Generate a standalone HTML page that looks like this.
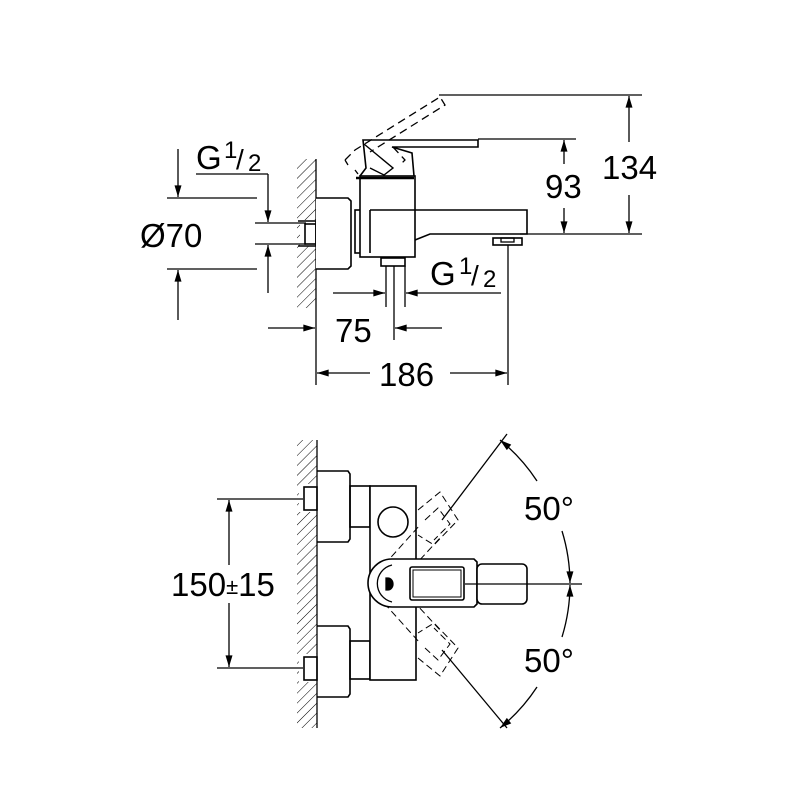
<!DOCTYPE html>
<html><head><meta charset="utf-8"><style>html,body{margin:0;padding:0;background:#fff}</style></head><body>
<svg width="800" height="800" viewBox="0 0 800 800" xmlns="http://www.w3.org/2000/svg" font-family="Liberation Sans, sans-serif">
<defs>
<pattern id="h" width="7" height="7" patternUnits="userSpaceOnUse" patternTransform="rotate(45)">
<line x1="0" y1="0" x2="0" y2="7" stroke="#000" stroke-width="1"/>
</pattern>
<marker id="a" viewBox="0 0 10 6" refX="10" refY="3" markerWidth="15" markerHeight="7" markerUnits="userSpaceOnUse" orient="auto-start-reverse"><path d="M0,0L10,3L0,6z"/></marker>
</defs>
<g stroke="#000" fill="none" stroke-width="1.3">
<!-- TOP VIEW -->
<rect x="297" y="159" width="19" height="149" fill="url(#h)" stroke="none"/>
<rect x="300" y="220" width="18" height="26" fill="#fff" stroke="none"/>
<line x1="316" y1="159" x2="316" y2="385"/>
<path d="M298,221H316V246H298" stroke-width="1.6"/>
<rect x="305" y="224" width="11" height="20" stroke-width="1.6"/>
<path d="M316,198H348L351,201V266L348,269H316" stroke-width="1.6" fill="#fff"/>
<rect x="355" y="210" width="15" height="43" stroke-width="1.6"/>
<rect x="360" y="176" width="55" height="81" stroke-width="1.6" fill="#fff"/>
<path d="M370,210H527V234H430L415,240" stroke-width="1.6"/>
<line x1="370" y1="210" x2="370" y2="253" stroke-width="1.6"/>
<path d="M360,176L366,168L363,140H478V147H392L412,153L414,176" stroke-width="1.6"/>
<path d="M364,144L393,168L384,175L370,168" stroke-width="1.4"/>
<path d="M345,160L355,150L440,97L445,105L370,152M348,165L345,160M358,174L355,170M393,147L405,160L400,165" stroke-dasharray="8,5"/>
<line x1="356" y1="178" x2="414" y2="178" stroke-width="2.5"/>
<rect x="381" y="258" width="24" height="8" stroke-width="1.6"/>
<line x1="386" y1="266" x2="386" y2="307"/>
<line x1="394" y1="266" x2="394" y2="340"/>
<line x1="405" y1="266" x2="405" y2="307"/>
<rect x="493" y="238" width="29" height="7" stroke-width="1.6"/>
<rect x="501" y="238" width="13" height="4"/>
<line x1="508" y1="245" x2="508" y2="385"/>
<line x1="439" y1="95" x2="642" y2="95"/>
<line x1="478" y1="139" x2="576" y2="139"/>
<line x1="520" y1="234" x2="642" y2="234"/>
<line x1="629" y1="142" x2="629" y2="96" marker-end="url(#a)"/>
<line x1="629" y1="195" x2="629" y2="233" marker-end="url(#a)"/>
<line x1="564" y1="164" x2="564" y2="140" marker-end="url(#a)"/>
<line x1="564" y1="208" x2="564" y2="233" marker-end="url(#a)"/>
<line x1="167" y1="198" x2="257" y2="198"/>
<line x1="167" y1="269" x2="257" y2="269"/>
<line x1="178" y1="149" x2="178" y2="197" marker-end="url(#a)"/>
<line x1="178" y1="320" x2="178" y2="270" marker-end="url(#a)"/>
<line x1="196" y1="174" x2="268" y2="174"/>
<line x1="268" y1="174" x2="268" y2="222" marker-end="url(#a)"/>
<line x1="268" y1="293" x2="268" y2="245" marker-end="url(#a)"/>
<line x1="255" y1="223" x2="306" y2="223"/>
<line x1="255" y1="244" x2="306" y2="244"/>
<line x1="333" y1="293" x2="385" y2="293" marker-end="url(#a)"/>
<line x1="501" y1="293" x2="406" y2="293" marker-end="url(#a)"/>
<line x1="268" y1="328" x2="315" y2="328" marker-end="url(#a)"/>
<line x1="442" y1="328" x2="395" y2="328" marker-end="url(#a)"/>
<line x1="370" y1="373" x2="317" y2="373" marker-end="url(#a)"/>
<line x1="450" y1="373" x2="507" y2="373" marker-end="url(#a)"/>

<!-- BOTTOM VIEW -->
<rect x="297" y="440" width="20" height="288" fill="url(#h)" stroke="none"/>
<rect x="299" y="484" width="18" height="28" fill="#fff" stroke="none"/>
<rect x="299" y="654" width="18" height="28" fill="#fff" stroke="none"/>
<line x1="317" y1="440" x2="317" y2="728"/>
<rect x="304" y="487" width="13" height="23" stroke-width="1.6"/>
<rect x="304" y="657" width="13" height="23" stroke-width="1.6"/>
<path d="M317,471H348L350,474V539L348,542H317" stroke-width="1.6"/>
<path d="M317,626H348L350,629V694L348,697H317" stroke-width="1.6"/>
<rect x="350" y="486" width="20" height="41" stroke-width="1.6"/>
<rect x="350" y="641" width="20" height="38" stroke-width="1.6"/>
<rect x="370" y="486" width="46" height="194" stroke-width="1.6" fill="#fff"/>
<circle cx="393" cy="522" r="15" stroke-width="1.6"/>
<g stroke-dasharray="7,4" stroke-width="1">
<path d="M418,510L440,492L458,520L434,545L418,535"/>
<path d="M425,520L438,508L450,524L434,540"/>
<path d="M418,658L440,676L458,648L434,623L418,633"/>
<path d="M425,648L438,660L450,644L434,628"/>
<path d="M384,565L420,525M405,576L440,538M384,603L420,643M405,592L440,630"/>
</g>
<path d="M392,559H474L477,562V604L474,607H392A24,24 0 0 1 392,559Z" stroke-width="1.6" fill="#fff"/>
<path d="M392,565A19,19 0 0 0 392,602"/>
<rect x="477" y="564" width="50" height="40" rx="5" stroke-width="1.6" fill="#fff"/>
<rect x="410" y="567" width="54" height="33" rx="2" stroke-width="1.6"/>
<rect x="413" y="570" width="48" height="27" stroke-width="1"/>
<path d="M386,578h2a5,6 0 0 1 0,12h-2z" fill="#000"/>
<line x1="465" y1="584" x2="582" y2="584"/>
<line x1="507" y1="434" x2="442" y2="520"/>
<line x1="507" y1="728" x2="442" y2="650"/>
<path d="M500,440A180,180 0 0 1 537,481" marker-start="url(#a)"/>
<path d="M562,531A180,180 0 0 1 570,583" marker-end="url(#a)"/>
<path d="M562,637A180,180 0 0 0 570,585" marker-end="url(#a)"/>
<path d="M500,728A180,180 0 0 0 537,687" marker-start="url(#a)"/>
<line x1="217" y1="499" x2="303" y2="499"/>
<line x1="217" y1="668" x2="303" y2="668"/>
<line x1="229" y1="565" x2="229" y2="500" marker-end="url(#a)"/>
<line x1="229" y1="603" x2="229" y2="667" marker-end="url(#a)"/>
</g>
<g font-size="33" fill="#000">
<text x="602" y="179">134</text>
<text x="545" y="198">93</text>
<text x="140" y="247">Ø70</text>
<text x="196" y="169">G</text><text x="224" y="158" font-size="24">1</text><text x="236" y="169" font-size="28">/</text><text x="248" y="171" font-size="24">2</text>
<text x="430" y="285">G</text><text x="459" y="274" font-size="24">1</text><text x="471" y="285" font-size="28">/</text><text x="483" y="287" font-size="24">2</text>
<text x="335" y="342">75</text>
<text x="379" y="386">186</text>
<text x="171" y="596">150<tspan font-size="22" dy="-2">±</tspan><tspan dy="2">15</tspan></text>
<text x="524" y="520">50°</text>
<text x="524" y="672">50°</text>
</g>
</svg>
</body></html>
